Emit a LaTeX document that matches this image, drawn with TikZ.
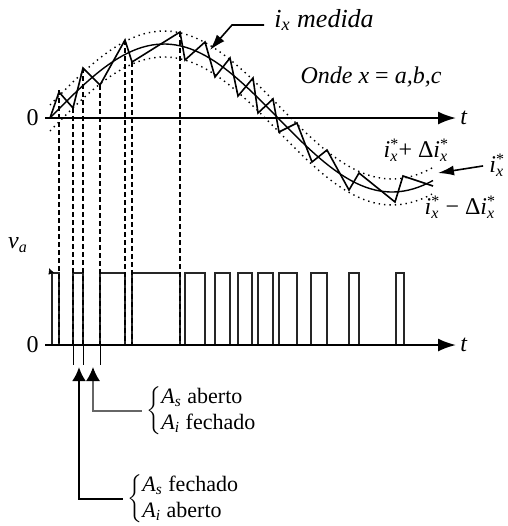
\documentclass[tikz,border=0pt]{standalone}
\usepackage{fontspec}
\setmainfont{Liberation Serif}
\usetikzlibrary{positioning,calc,arrows.meta}
\newcommand{\cur}{\textit{i}\textsubscript{\textit{x}}}
\newcommand{\curref}{\textit{i}\rlap{\textsuperscript{*}}\textsubscript{\textit{x}}}
\newcommand{\swt}[1]{\textit{A}\textsubscript{\textit{#1}}}

\begin{document}
\begin{tikzpicture}[x=0.5pt,y=-0.5pt,
  axis/.style={line width=1pt,-{Latex[length=9pt,width=6.5pt]}},
  band/.style={dotted,line width=0.7pt},
  guide/.style={line width=1pt,dash pattern=on 2.5pt off 1.5pt},
  pulse/.style={line width=0.7pt,black!85},
  lbl/.style={font=\fontsize{12}{14}\selectfont,inner sep=0pt},
  state/.style={font=\fontsize{11}{13}\selectfont,inner sep=0pt,anchor=west}]
\useasboundingbox (0,0) rectangle (508,526);

\coordinate (o1) at (45,118);
\coordinate (e1) at (456,118);
\coordinate (o2) at (45,345);
\coordinate (e2) at (456,345);
\node[lbl,left=3pt of o1] (zero1) {0};
\node[lbl,left=3pt of o2] (zero2) {0};
\node[lbl,right=2pt of e1] (t1) {\textit{t}};
\node[lbl,right=2pt of e2] (t2) {\textit{t}};
\node[lbl] (va) at (18,245) {\textit{v}\textsubscript{\textit{a}}};

% reference and band
\draw[line width=0.7pt,domain=50:433,samples=80] plot ({\x},{118-74*sin(0.78947*(\x-50))});
\draw[band,domain=50:435,samples=80] plot ({\x},{105-74*sin(0.78947*(\x-50))});
\draw[band,domain=50:432,samples=80] plot ({\x},{131-74*sin(0.78947*(\x-50))});

% measured current
\draw[line width=0.8pt] plot coordinates {(50,118) (59,92) (73,108) (83,68) (100,85) (125,40) (132,62)
  (180,32) (185,60) (205,42) (215,77) (230,58) (238,96) (253,78) (258,113) (273,99) (279,132)
  (297,123) (312,162) (327,150) (349,190) (359,173) (395,202) (403,176) (433,186)};

% pulses
\foreach \a/\b in {52/59,73/83,100/125,132/180,185/205,215/230,238/252,258/273,279/297,311/327,349/359,396/404}
  \draw[pulse] (\a,345) |- (\b,273) -- (\b,345);
\draw[-{Latex[length=3pt,width=3pt]},line width=0.3pt] (51,273) -- (49,268);

\draw[axis] (o1) -- (e1);
\draw[axis] (o2) -- (e2);

% guides
\foreach \x/\y in {59/90,73/108,100/85,125/40,132/62,180/32}
  \draw[guide] (\x,\y) -- (\x,345);
\draw[guide,line width=0.6pt] (83,68) -- (83,345);
\foreach \x in {73,83,100}
  \draw[line width=0.4pt] (\x,345) -- (\x,365);

% labels
\node[font=\fontsize{13}{15}\selectfont,inner sep=0pt,anchor=base west] (meas) at (274,27) {\cur\ \textit{medida}};
\coordinate (mknee) at (232,25);
\coordinate (mtip) at (210,50);
\draw[line width=0.8pt,-{Latex[length=8pt,width=5pt]},shorten <=5pt] (meas.west |- mknee) -- (mknee) -- (mtip);

\node[lbl] (onde) at (371,77) {\textit{Onde x} = \textit{a,b,c}};
\node[lbl] (upper) at (416,150) {\curref+ Δ\curref};
\node[lbl] (lower) at (460,207) {\curref\ − Δ\curref};
\node[lbl,anchor=west] (iref) at (489,165) {\curref};
\coordinate (rtip) at (438,173);
\draw[line width=0.8pt,-{Latex[length=8pt,width=5pt]},shorten <=3pt] (iref.west) -- (rtip);

\coordinate (p1) at (79,367);
\coordinate (p2) at (93,367);
\node[state] (closed) at (127,499) {$\left\{\begin{tabular}{@{}l@{}}\swt{s} fechado\\ \swt{i} aberto\end{tabular}\right.$};
\node[state] (opened) at (146,411) {$\left\{\begin{tabular}{@{}l@{}}\swt{s} aberto\\ \swt{i} fechado\end{tabular}\right.$};
\draw[line width=1.3pt,{Latex[length=7pt,width=7pt]}-,shorten >=2pt] (p1) |- (closed.west);
\draw[line width=0.7pt,black!60,{Latex[length=7pt,width=7pt,color=black]}-,shorten >=2pt] (p2) |- (opened.west);
\end{tikzpicture}
\end{document}
